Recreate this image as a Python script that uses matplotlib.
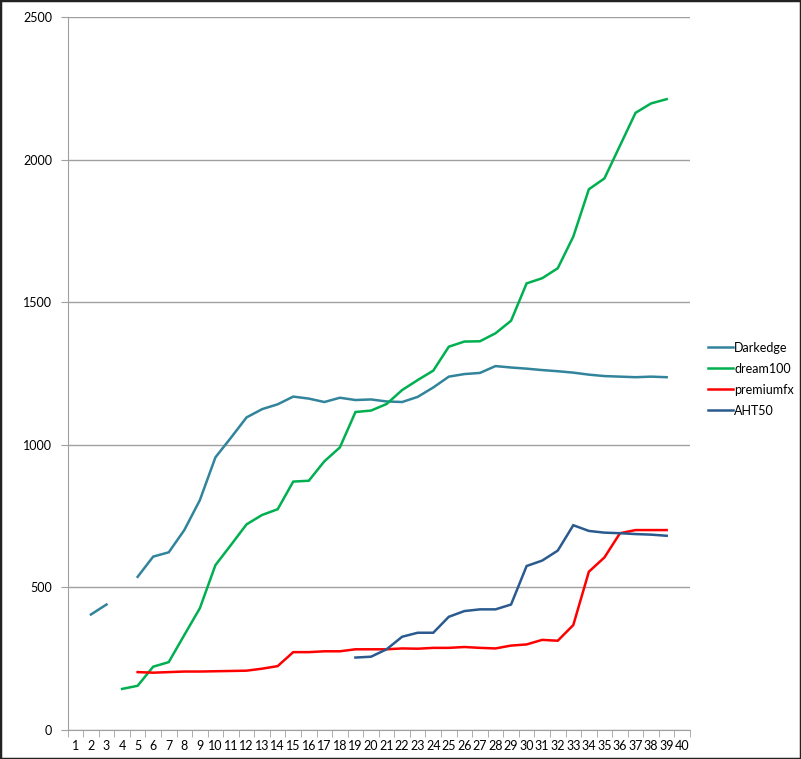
import numpy as np
import matplotlib
matplotlib.use("Agg")
import matplotlib.pyplot as plt
from matplotlib.patches import Rectangle
from matplotlib.ticker import MultipleLocator, FixedLocator

nan = np.nan

categories = list(range(1, 41))

darkedge = [nan, 405, 440, nan, 537, 608, 623, 701, 806, 956,
            1025, 1096, 1125, 1142, 1169, 1162, 1150, 1165, 1157, 1159,
            1152, 1150, 1168, 1201, 1239, 1248, 1252, 1276, 1271, 1267,
            1262, 1258, 1253, 1246, 1241, 1239, 1237, 1239, 1237, nan]

dream100 = [nan, nan, nan, 144, 155, 222, 238, 333, 427, 578,
            649, 721, 754, 774, 871, 874, 942, 991, 1115, 1120,
            1143, 1192, 1227, 1260, 1344, 1362, 1363, 1391, 1435, 1566,
            1584, 1619, 1730, 1896, 1934, 2049, 2164, 2197, 2212, nan]

premiumfx = [nan, nan, nan, nan, 203, 201, 203, 205, 205, 206,
             207, 208, 215, 224, 273, 273, 276, 276, 283, 283,
             283, 286, 285, 288, 288, 291, 288, 286, 296, 300,
             316, 313, 368, 555, 605, 690, 701, 701, 701, nan]

aht50 = [nan] * 18 + [254, 257,
         283, 327, 341, 341, 397, 417, 423, 423, 440, 575,
         594, 629, 718, 698, 692, 690, 687, 685, 681, nan]

series = [
    ("Darkedge", darkedge, "#31849b"),
    ("dream100", dream100, "#00b050"),
    ("premiumfx", premiumfx, "#ff0000"),
    ("AHT50", aht50, "#2a5a8e"),
]

plt.rcParams["font.family"] = ["Lato", "DejaVu Sans"]

W, H = 801, 759
fig = plt.figure(figsize=(W / 100, H / 100), dpi=100)
ax = fig.add_axes([67.6 / W, (H - 730) / H, (690 - 67.6) / W, (730 - 17) / H])

for name, vals, col in series:
    ax.plot(categories, vals, color=col, lw=1.8, label=name, solid_joinstyle="miter")

ax.set_xlim(0.5, 40.5)
ax.set_ylim(0, 2500)
ax.yaxis.set_major_locator(MultipleLocator(500))
ax.grid(axis="y", color="#a0a0a0", lw=1)
ax.set_axisbelow(True)

ax.set_xticks(categories)
ax.set_xticklabels([str(c) for c in categories], fontsize=9)
ax.tick_params(axis="x", which="major", length=0, pad=7)
ax.xaxis.set_minor_locator(FixedLocator(np.arange(0.5, 41, 1)))
ax.tick_params(axis="x", which="minor", length=5, color="#a0a0a0", direction="out")
ax.tick_params(axis="y", length=5, color="#a0a0a0", labelsize=9, pad=6)

for s in ("top", "right"):
    ax.spines[s].set_visible(False)
for s in ("left", "bottom"):
    ax.spines[s].set_color("#a0a0a0")

fig.legend(loc="center left", bbox_to_anchor=(708 / W, 1 - 379 / H), frameon=False,
           fontsize=9, handlelength=2.0, handletextpad=0.1, labelspacing=0.72,
           borderaxespad=0, borderpad=0)

fig.patches.append(Rectangle((0, 0), 1, 1, transform=fig.transFigure, fill=False,
                             edgecolor="#222222", lw=2.5))

fig.savefig("out.png", dpi=100)
